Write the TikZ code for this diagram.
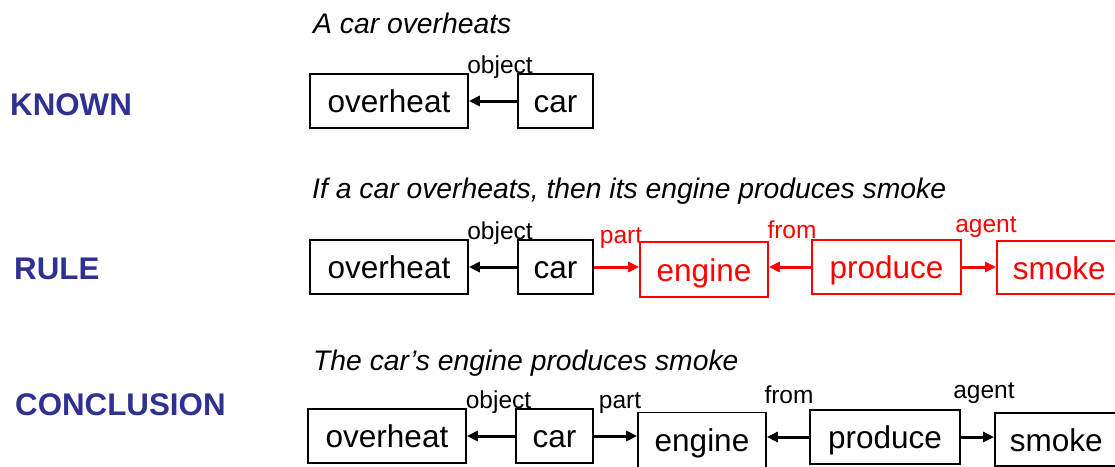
\documentclass[tikz,border=0pt]{standalone}
\usepackage{fontspec}
\setmainfont{Liberation Sans}
\usetikzlibrary{arrows.meta}
\definecolor{hdblue}{RGB}{46,49,146}
\definecolor{rulered}{RGB}{255,0,0}
\tikzset{
  box/.style={draw, line width=1.6pt, inner sep=0pt, minimum height=54pt, text height=23pt, text depth=0pt, font=\fontsize{31.5}{31.5}\selectfont},
  rbox/.style={box, draw=rulered, text=rulered},
  edgebox/.style={anchor=west, text width=100pt, align=left, inner xsep=16pt},
  arr/.style={line width=3pt, -{Triangle[length=11pt,width=10pt]}},
  rarr/.style={arr, draw=rulered, fill=rulered},
  lbl/.style={anchor=base, inner sep=0pt, font=\fontsize{24.5}{24.5}\selectfont},
  rlbl/.style={lbl, text=rulered},
  ttl/.style={anchor=base west, inner sep=0pt, font=\fontsize{28.3}{28.3}\selectfont\itshape},
  hd/.style={anchor=west, inner sep=0pt, text=hdblue, font=\fontsize{31.3}{31.3}\selectfont\bfseries}
}
\begin{document}
\begin{tikzpicture}[x=1pt,y=-1pt]
\useasboundingbox (0,0) rectangle (1115,466);
% headings
\node[hd] (hk) at (10,105) {KNOWN};
\node[hd] (hr) at (14,269) {RULE};
\node[hd] (hc) at (15,405) {CONCLUSION};
% titles
\node[ttl] (t1) at (313,33) {A car overheats};
\node[ttl] (t2) at (312,198) {If a car overheats, then its engine produces smoke};
\node[ttl] (t3) at (313,370) {The car’s engine produces smoke};
% row 1
\node[box, minimum width=158pt] (o1) at (389,101) {overheat};
\node[box, minimum width=75pt] (c1) at (555.5,101) {car};
\draw[arr] (c1) -- (o1);
\node[lbl] (l1) at (500,73) {object};
% row 2
\node[box, minimum width=158pt] (o2) at (389,267) {overheat};
\node[box, minimum width=75pt] (c2) at (555.5,267) {car};
\node[rbox, minimum width=128pt, minimum height=55pt] (e2) at (704,269.5) {engine};
\node[rbox, minimum width=149pt] (p2) at (886.5,267) {produce};
\node[rbox, edgebox, minimum height=53pt] (s2) at (996,267.5) {smoke};
\draw[arr] (c2) -- (o2);
\draw[rarr] (c2.east) -- (c2.east -| e2.west);
\draw[rarr] (p2.west) -- (p2.west -| e2.east);
\draw[rarr] (p2.east) -- (p2.east -| s2.west);
\node[lbl] (l2a) at (500,239) {object};
\node[rlbl] (l2b) at (621,243) {part};
\node[rlbl] (l2c) at (792,238) {from};
\node[rlbl] (l2d) at (986,232) {agent};
% row 3
\node[box, minimum width=158pt] (o3) at (387,436) {overheat};
\node[box, minimum width=77pt] (c3) at (554.5,436) {car};
\node[box, minimum width=128pt, minimum height=55pt] (e3) at (702,440) {engine};
\node[box, minimum width=150pt] (p3) at (885,437) {produce};
\node[box, edgebox, inner xsep=15pt, minimum height=53pt] (s3) at (994,439.5) {smoke};
\draw[arr] (c3) -- (o3);
\draw[arr] (c3.east) -- (c3.east -| e3.west);
\draw[arr] (p3.west) -- (p3.west -| e3.east);
\draw[arr] (p3.east) -- (p3.east -| s3.west);
\node[lbl] (l3a) at (498.5,408) {object};
\node[lbl] (l3b) at (620,408) {part};
\node[lbl] (l3c) at (789,403) {from};
\node[lbl] (l3d) at (984,398) {agent};
\end{tikzpicture}
\end{document}
